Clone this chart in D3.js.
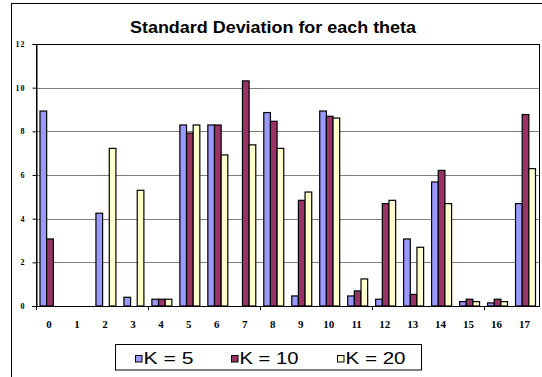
<!DOCTYPE html>
<html>
<head>
<meta charset="utf-8">
<script src="https://cdn.jsdelivr.net/npm/d3@7"></script>
<style>
  html, body { margin: 0; padding: 0; background: #fff; }
  svg { display: block; }
</style>
</head>
<body>
<svg id="chart" width="542" height="377"></svg>
<script>
// Standard deviation per theta, for three neighbourhood sizes K
const thetas = ["0","1","2","3","4","5","6","7","8","9","10","11","12","13","14","15","16","17"];
const seriesNames = ["K = 5", "K = 10", "K = 20"];
const k5  = [8.93, null, 4.25, 0.40, 0.31, 8.29, 8.29, null, 8.86, 0.46, 8.93, 0.46, 0.31, 3.07, 5.68, 0.20, 0.14, 4.69];
const k10 = [3.07, null, null, null, 0.31, 7.92, 8.29, 10.31, 8.46, 4.84, 8.69, 0.69, 4.69, 0.53, 6.21, 0.31, 0.31, 8.77];
const k20 = [null, null, 7.22, 5.30, 0.31, 8.29, 6.92, 7.38, 7.22, 5.22, 8.61, 1.24, 4.84, 2.69, 4.69, 0.20, 0.20, 6.29];
const yTicks = [0, 2, 4, 6, 8, 10, 12];
const colors = ["#9999FF", "#993366", "#FFFFCC"];
const title = "Standard Deviation for each theta";

const seriesValues = [k5, k10, k20];
const svg = d3.select("#chart");

// outer chart frame
svg.append("rect")
  .attr("x", 11.5).attr("y", 3.5)
  .attr("width", 700).attr("height", 500)
  .attr("fill", "#fff").attr("stroke", "#000").attr("stroke-width", 1);

const plot = { left: 36, right: 539.5, top: 44, bottom: 306 };

const x0 = d3.scaleBand().domain(thetas).range([plot.left, plot.right]).paddingInner(0).paddingOuter(0);
const x1 = d3.scaleBand().domain(seriesNames).range([0, x0.bandwidth()]).paddingInner(0).paddingOuter(0.6);
const y = d3.scaleLinear().domain([0, 12]).range([plot.bottom, plot.top]);

// gridlines
svg.append("g").selectAll("line")
  .data(yTicks.filter(t => t > 0 && t < 12))
  .join("line")
  .attr("x1", plot.left).attr("x2", plot.right)
  .attr("y1", d => Math.round(y(d)) + 0.5).attr("y2", d => Math.round(y(d)) + 0.5)
  .attr("stroke", "#808080").attr("stroke-width", 1);

// plot area border
svg.append("rect")
  .attr("x", plot.left + 0.5).attr("y", plot.top + 0.5)
  .attr("width", plot.right - plot.left - 0.5).attr("height", plot.bottom - plot.top)
  .attr("fill", "none").attr("stroke", "#000").attr("stroke-width", 1);

// bars
const groups = svg.append("g").selectAll("g")
  .data(thetas)
  .join("g")
  .attr("transform", d => `translate(${x0(d)},0)`);

groups.selectAll("rect")
  .data((d, i) => seriesNames.map((s, j) => ({ s, j, v: seriesValues[j][i] })).filter(e => e.v != null))
  .join("rect")
  .attr("x", e => x1(e.s))
  .attr("width", x1.bandwidth())
  .attr("y", e => y(e.v))
  .attr("height", e => y(0) - y(e.v))
  .attr("fill", e => colors[e.j])
  .attr("stroke", "#000").attr("stroke-width", 1.2);

// y axis
const yAxis = d3.axisLeft(y).tickValues(yTicks).tickSize(4).tickPadding(7).tickFormat(d3.format("d"));
const gy = svg.append("g").attr("transform", `translate(${plot.left + 0.5},0)`).call(yAxis);
gy.select(".domain").attr("stroke", "#000");
gy.selectAll(".tick line").attr("stroke", "#000");
gy.selectAll(".tick text")
  .attr("font-family", "'Liberation Serif', 'Times New Roman', serif")
  .attr("font-weight", "bold").attr("font-size", 8)
  .attr("letter-spacing", 1).attr("fill", "#000");

// x axis: labels for every theta, tick marks every fourth boundary
const xAxisLine = svg.append("g");
xAxisLine.append("line")
  .attr("x1", plot.left - 4).attr("x2", plot.right)
  .attr("y1", plot.bottom + 0.5).attr("y2", plot.bottom + 0.5)
  .attr("stroke", "#000");
xAxisLine.selectAll("line.tk")
  .data(thetas.filter((d, i) => i % 4 === 0))
  .join("line").attr("class", "tk")
  .attr("x1", d => Math.round(x0(d)) + 0.5).attr("x2", d => Math.round(x0(d)) + 0.5)
  .attr("y1", plot.bottom).attr("y2", plot.bottom + 4)
  .attr("stroke", "#000");
svg.append("g").selectAll("text")
  .data(thetas)
  .join("text")
  .attr("x", d => x0(d) + x0.bandwidth() / 2 - 1)
  .attr("y", 328)
  .attr("text-anchor", "middle")
  .attr("font-family", "'Liberation Serif', 'Times New Roman', serif")
  .attr("font-weight", "bold").attr("font-size", 11)
  .attr("fill", "#000")
  .text(d => d);

// title
svg.append("text")
  .attr("x", 130).attr("y", 32.5)
  .attr("font-family", "'Liberation Sans', Arial, sans-serif")
  .attr("font-weight", "bold").attr("font-size", 16)
  .attr("textLength", 286).attr("lengthAdjust", "spacingAndGlyphs")
  .attr("fill", "#000")
  .text(title);

// legend
const legend = svg.append("g");
legend.append("rect")
  .attr("x", 115.5).attr("y", 344.5).attr("width", 306).attr("height", 25.5)
  .attr("fill", "#fff").attr("stroke", "#000").attr("stroke-width", 1);
const legendX = [135, 231, 337];
const legendW = [50, 59, 60];
const items = legend.selectAll("g.item")
  .data(seriesNames)
  .join("g").attr("class", "item")
  .attr("transform", (d, i) => `translate(${legendX[i]},0)`);
items.append("rect")
  .attr("x", 0.5).attr("y", 355.5).attr("width", 6.5).attr("height", 6.5)
  .attr("fill", (d, i) => colors[i]).attr("stroke", "#000").attr("stroke-width", 1);
items.append("text")
  .attr("x", 8.5).attr("y", 363.8)
  .attr("font-family", "'Liberation Sans', Arial, sans-serif")
  .attr("font-size", 17).attr("fill", "#000")
  .attr("textLength", (d, i) => legendW[i]).attr("lengthAdjust", "spacingAndGlyphs")
  .text(d => d);
</script>
</body>
</html>
